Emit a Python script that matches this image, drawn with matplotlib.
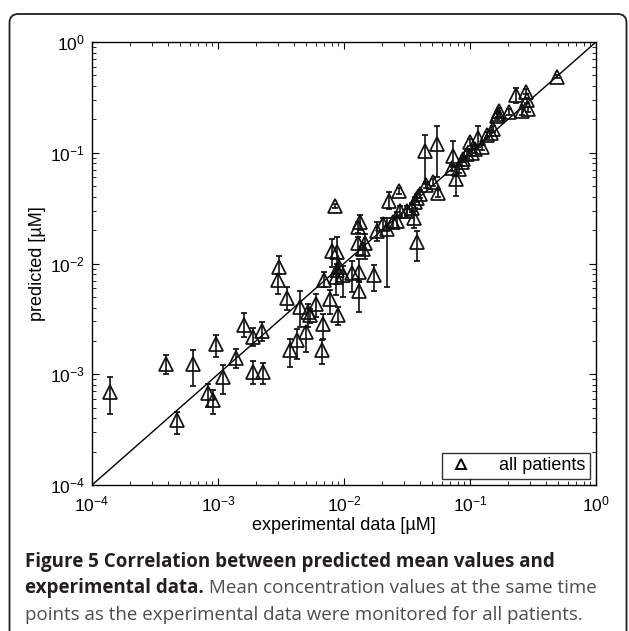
import matplotlib
matplotlib.use("Agg")
import matplotlib.pyplot as plt
import numpy as np
from matplotlib.patches import FancyBboxPatch
from matplotlib.lines import Line2D
from matplotlib.ticker import LogLocator, NullFormatter, FixedLocator

plt.rcParams['font.family'] = ['Liberation Sans', 'DejaVu Sans']
plt.rcParams['mathtext.fontset'] = 'custom'
plt.rcParams['mathtext.rm'] = 'Liberation Sans'
plt.rcParams['mathtext.it'] = 'Liberation Sans'
plt.rcParams['mathtext.bf'] = 'Liberation Sans:bold'

# ---- data: experimental (x), predicted mean (y), predicted lower/upper (error bar ends)
x_exp = [1.39e-4, 3.9e-4, 6.3e-4, 4.75e-4, 9.6e-4, 8.4e-4, 9.1e-4, 1.1e-3, 1.38e-3, 1.62e-3,
         1.88e-3, 2.25e-3, 1.9e-3, 2.26e-3, 3.03e-3, 2.98e-3, 3.5e-3, 3.73e-3,
         8.5e-3, 6.9e-3, 4.5e-3, 6.0e-3, 5.2e-3, 5.4e-3, 7.7e-3, 9.0e-3, 6.85e-3, 5.0e-3,
         4.27e-3, 6.65e-3, 8.1e-3, 8.85e-3, 8.75e-3, 9.2e-3, 9.9e-3, 8.6e-3, 1.15e-2, 1.31e-2,
         1.31e-2, 1.74e-2, 1.28e-2, 1.48e-2, 1.34e-2, 1.28e-2, 1.42e-2, 1.82e-2, 2.05e-2, 2.18e-2,
         2.29e-2, 2.75e-2, 2.62e-2, 3.15e-2, 3.66e-2, 3.6e-2, 3.78e-2, 2.78e-2, 2.46e-2, 4.0e-2,
         3.82e-2, 3.45e-2,
         0.045, 0.0506, 0.056, 0.0544, 0.044, 0.077, 0.0737, 0.0724, 0.082, 0.086,
         0.0885, 0.094, 0.103, 0.1, 0.11, 0.116, 0.124, 0.136, 0.147, 0.153,
         0.168, 0.165, 0.17, 0.205, 0.257, 0.29, 0.285, 0.278, 0.23, 0.487]
y_pred = [6.9e-4, 1.25e-3, 1.23e-3, 3.85e-4, 1.86e-3, 6.8e-4, 5.9e-4, 9.5e-4, 1.41e-3, 2.8e-3,
          2.17e-3, 2.45e-3, 1.05e-3, 1.04e-3, 9.3e-3, 7.1e-3, 4.9e-3, 1.64e-3,
          3.3e-2, 7.1e-3, 4.04e-3, 4.3e-3, 3.64e-3, 3.4e-3, 4.8e-3, 3.4e-3, 2.86e-3, 2.4e-3,
          2.02e-3, 1.64e-3, 1.31e-2, 1.26e-2, 8.65e-3, 9.3e-3, 7.95e-3, 7.6e-3, 8.2e-3, 8.35e-3,
          5.6e-3, 7.8e-3, 1.52e-2, 1.52e-2, 2.36e-2, 2.12e-2, 1.36e-2, 1.98e-2, 2.28e-2, 2.05e-2,
          3.7e-2, 4.5e-2, 2.44e-2, 3.0e-2, 3.57e-2, 2.58e-2, 1.56e-2, 3.0e-2, 2.36e-2, 4.25e-2,
          3.9e-2, 3.2e-2,
          0.0515, 0.054, 0.043, 0.12, 0.104, 0.058, 0.094, 0.0728, 0.0713, 0.0818,
          0.0877, 0.097, 0.1, 0.124, 0.108, 0.137, 0.113, 0.145, 0.152, 0.163,
          0.226, 0.215, 0.24, 0.234, 0.236, 0.248, 0.298, 0.357, 0.331, 0.484]
y_low = [4.4e-4, 1.01e-3, 7.9e-4, 2.9e-4, 1.43e-3, 5.1e-4, 4.4e-4, 6.6e-4, 1.15e-3, 2.17e-3,
         1.79e-3, 2.0e-3, 8.1e-4, 8.2e-4, 8.0e-3, 5.3e-3, 3.78e-3, 1.16e-3,
         3.15e-2, 6.1e-3, 2.67e-3, 3.28e-3, 2.67e-3, 2.9e-3, 3.5e-3, 2.76e-3, 2.1e-3, 1.59e-3,
         1.38e-3, 1.25e-3, 9.3e-3, 8.65e-3, 6.5e-3, 7.5e-3, 4.97e-3, 5.2e-3, 5.5e-3, 7.0e-3,
         3.64e-3, 5.7e-3, 1.2e-2, 1.1e-2, 2.0e-2, 1.9e-2, 1.2e-2, 1.6e-2, 2.0e-2, 6.1e-3,
         3.1e-2, 4.2e-2, 2.1e-2, 2.7e-2, 3.2e-2, 2.1e-2, 1.06e-2, 2.7e-2, 2.1e-2, 3.9e-2,
         3.6e-2, 2.9e-2,
         0.048, 0.05, 0.04, 0.06, 0.052, 0.041, 0.0738, 0.068, 0.066, 0.076,
         0.082, 0.09, 0.094, 0.115, 0.1, 0.112, 0.106, 0.136, 0.143, 0.153,
         0.21, 0.2, 0.225, 0.22, 0.22, 0.235, 0.28, 0.34, 0.284, 0.47]
y_high = [9.5e-4, 1.48e-3, 1.64e-3, 4.6e-4, 2.28e-3, 8.1e-4, 7.2e-4, 1.2e-3, 1.7e-3, 3.57e-3,
          2.63e-3, 2.96e-3, 1.32e-3, 1.26e-3, 1.16e-2, 8.1e-3, 6.1e-3, 2.1e-3,
          3.45e-2, 8.4e-3, 5.6e-3, 5.3e-3, 4.3e-3, 3.9e-3, 5.8e-3, 4.04e-3, 3.5e-3, 2.67e-3,
          2.58e-3, 2.02e-3, 1.67e-2, 1.73e-2, 1.0e-2, 1.1e-2, 9.5e-3, 9.0e-3, 1.06e-2, 1.1e-2,
          6.8e-3, 9.6e-3, 1.75e-2, 1.85e-2, 2.75e-2, 2.35e-2, 1.5e-2, 2.35e-2, 2.6e-2, 2.6e-2,
          4.4e-2, 4.8e-2, 2.9e-2, 3.3e-2, 4.0e-2, 3.0e-2, 1.98e-2, 3.3e-2, 2.6e-2, 4.6e-2,
          4.2e-2, 3.5e-2,
          0.055, 0.058, 0.046, 0.175, 0.145, 0.0738, 0.128, 0.078, 0.077, 0.088,
          0.094, 0.104, 0.107, 0.133, 0.116, 0.175, 0.12, 0.155, 0.162, 0.173,
          0.24, 0.23, 0.255, 0.25, 0.25, 0.26, 0.315, 0.375, 0.387, 0.5]

axis_limits = [1e-4, 1e0]
tick_values = [1e-4, 1e-3, 1e-2, 1e-1, 1e0]
tick_labels = ['$10^{-4}$', '$10^{-3}$', '$10^{-2}$', '$10^{-1}$', '$10^{0}$']
legend_label = 'all patients'
x_label = 'experimental data [µM]'
y_label = 'predicted [µM]'
caption_bold_1 = 'Figure 5 Correlation between predicted mean values and'
caption_bold_2 = 'experimental data.'
caption_reg_2 = ' Mean concentration values at the same time'
caption_reg_3 = 'points as the experimental data were monitored for all patients.'

W, H = 629, 631
fig = plt.figure(figsize=(W / 100, H / 100), dpi=100)

# rounded frame
frame = FancyBboxPatch((9.5 / W, -30 / H), (626.5 - 9.5) / W, (631 + 30 - 14) / H,
                       boxstyle="round,pad=0,rounding_size=0.014",
                       transform=fig.transFigure, fill=False, edgecolor='#231f20',
                       linewidth=1.3, clip_on=False)
fig.patches.append(frame)

ax = fig.add_axes([92 / W, (H - 485) / H, 504 / W, 443 / H])

x = np.array(x_exp)
y = np.array(y_pred)
yerr = np.vstack([y - np.array(y_low), np.array(y_high) - y])

ax.plot(axis_limits, axis_limits, color='black', linewidth=1.0, zorder=2)
ax.errorbar(x, y, yerr=yerr, fmt='^', mfc='none', mec='#111111', mew=1.25, ms=9.5,
            ecolor='#111111', elinewidth=1.2, capsize=2, capthick=1.2, zorder=3)

ax.set_xscale('log')
ax.set_yscale('log')
ax.set_xlim(axis_limits)
ax.set_ylim(axis_limits)
ax.xaxis.set_major_locator(FixedLocator(tick_values))
ax.yaxis.set_major_locator(FixedLocator(tick_values))
ax.set_xticklabels(tick_labels)
ax.set_yticklabels(tick_labels)
for a in (ax.xaxis, ax.yaxis):
    a.set_minor_locator(LogLocator(base=10, subs=np.arange(2, 10), numticks=20))
    a.set_minor_formatter(NullFormatter())
ax.tick_params(which='both', direction='in', top=True, right=True, colors='black',
               labelsize=12.5)
ax.tick_params(which='major', length=5, width=0.8)
ax.tick_params(which='minor', length=3, width=0.6)
ax.tick_params(axis='x', which='major', pad=7)
ax.tick_params(axis='y', which='major', pad=5)
for s in ax.spines.values():
    s.set_linewidth(1.0)

ax.set_xlabel(x_label, fontsize=13, labelpad=2)
ax.set_ylabel(y_label, fontsize=13, labelpad=3)

handle = Line2D([], [], marker='^', linestyle='none', mfc='none', mec='black', mew=1.4, ms=7)
leg = ax.legend([handle], [legend_label], loc='lower right', fontsize=13, frameon=True,
                fancybox=False, edgecolor='black', borderpad=0.25, handlelength=1.6,
                handletextpad=1.3, borderaxespad=0.35)
leg.get_frame().set_linewidth(1.0)

# caption
cap_font = ['Open Sans', 'DejaVu Sans']
cap_size = 13.5
fig.text(25 / W, 1 - 562 / H, caption_bold_1, fontsize=cap_size, fontweight='bold',
         family=cap_font, color='#231f20', va='center', ha='left')
t2 = fig.text(25 / W, 1 - 588 / H, caption_bold_2, fontsize=cap_size, fontweight='bold',
              family=cap_font, color='#231f20', va='center', ha='left')
fig.canvas.draw()
bb = t2.get_window_extent(renderer=fig.canvas.get_renderer())
fig.text(bb.x1 / W, 1 - 588 / H, caption_reg_2, fontsize=cap_size, family=cap_font,
         color='#4d4d4d', va='center', ha='left')
fig.text(25 / W, 1 - 615 / H, caption_reg_3, fontsize=cap_size, family=cap_font,
         color='#4d4d4d', va='center', ha='left')

fig.savefig('out.png', dpi=100)
